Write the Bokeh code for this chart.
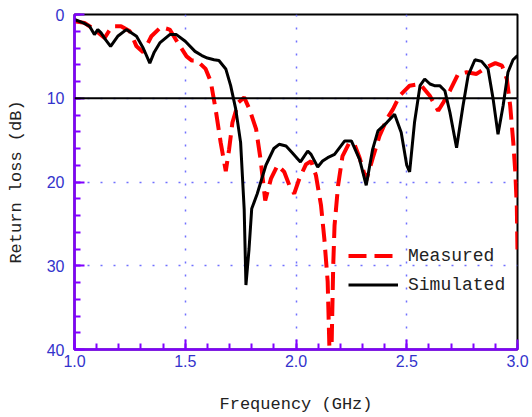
from bokeh.plotting import figure
from bokeh.models import Range1d, FixedTicker, Span, Legend, LegendItem, PrintfTickFormatter
from bokeh.embed import file_html
from bokeh.resources import INLINE

# ---- data ----
sim_f = [1.0, 1.04, 1.068, 1.09, 1.105, 1.12, 1.14, 1.163, 1.195, 1.234, 1.28, 1.31, 1.34, 1.36, 1.385,
         1.43, 1.46, 1.50, 1.544, 1.575, 1.60, 1.63, 1.652, 1.683, 1.705, 1.728, 1.75, 1.766, 1.774,
         1.788, 1.80, 1.825, 1.864, 1.90, 1.924, 1.955, 1.983, 2.02, 2.053, 2.068, 2.098, 2.12, 2.143,
         2.174, 2.22, 2.25, 2.287, 2.317, 2.346, 2.37, 2.41, 2.445, 2.475, 2.50, 2.513, 2.535, 2.56,
         2.581, 2.605, 2.625, 2.649, 2.672, 2.695, 2.725, 2.754, 2.777, 2.808, 2.838, 2.867, 2.89,
         2.912, 2.935, 2.957, 2.98, 3.0]
sim_db = [0.6, 1.0, 1.4, 2.4, 1.8, 2.2, 3.0, 3.8, 2.6, 1.8, 2.6, 4.0, 5.8, 4.5, 3.4,
          2.4, 2.4, 3.2, 4.4, 4.9, 5.2, 5.4, 5.5, 6.5, 8.5, 11.3, 15.3, 23.2, 32.3,
          28.0, 23.2, 21.4, 18.0, 16.0, 15.5, 15.7, 16.5, 17.6, 16.3, 16.7, 18.2, 17.5, 17.1,
          16.7, 15.1, 15.1, 17.3, 20.4, 16.1, 13.9, 12.9, 11.9, 14.1, 18.0, 18.8, 12.9, 8.5,
          7.7, 8.3, 8.5, 8.5, 9.1, 11.7, 15.9, 10.9, 7.3, 5.4, 5.6, 6.5, 10.1,
          14.3, 10.9, 6.9, 5.4, 4.9]

meas_f = [1.0, 1.045, 1.09, 1.136, 1.155, 1.172, 1.21, 1.25, 1.28, 1.31, 1.347, 1.39, 1.43, 1.467,
          1.506, 1.53, 1.553, 1.592, 1.615, 1.637, 1.66, 1.683, 1.698, 1.713, 1.74, 1.766, 1.79,
          1.82, 1.84, 1.861, 1.887, 1.917, 1.947, 1.97, 1.992, 2.015, 2.045, 2.068, 2.09, 2.113,
          2.128, 2.143, 2.151, 2.156, 2.162, 2.168, 2.174, 2.19, 2.21, 2.241, 2.264, 2.287, 2.317,
          2.347, 2.377, 2.41, 2.438, 2.468, 2.513, 2.56, 2.604, 2.642, 2.665, 2.695, 2.732, 2.77,
          2.815, 2.86, 2.9, 2.93, 2.952, 2.967, 2.981, 2.99, 2.997, 3.0]
meas_db = [0.8, 1.0, 1.8, 2.8, 2.0, 1.4, 1.4, 2.0, 3.8, 4.5, 2.6, 1.5, 1.8, 3.4,
           5.0, 5.5, 5.5, 6.5, 8.0, 11.3, 15.3, 18.7, 16.1, 12.9, 10.5, 9.9, 11.3,
           13.7, 17.3, 22.2, 19.6, 18.0, 18.8, 20.4, 21.4, 19.6, 17.9, 17.5, 19.2, 22.8,
           26.8, 31.9, 40.0, 46.0, 38.0, 30.0, 25.2, 20.4, 16.9, 15.3, 15.5, 17.1, 19.8,
           17.1, 14.5, 12.5, 11.3, 9.7, 8.5, 8.3, 9.7, 11.5, 10.5, 9.1, 7.1, 6.9,
           7.1, 6.3, 5.8, 6.1, 7.7, 10.9, 15.3, 18.8, 23.0, 28.5]

x_ticks = [1.0, 1.5, 2.0, 2.5, 3.0]
y_ticks = [0, 10, 20, 30, 40]
threshold_db = 10

AXIS = "#8000ff"
TICKTXT = "#3333cc"
GRID = "#7070ff"

p = figure(width=530, height=416, output_backend="svg", toolbar_location=None,
           x_range=Range1d(1.0, 3.0), y_range=Range1d(40, 0),
           min_border_left=74, min_border_top=14, min_border_right=13, min_border_bottom=66)

p.outline_line_color = "black"
p.outline_line_width = 2
p.background_fill_color = "white"

# grid
p.xgrid.ticker = FixedTicker(ticks=[1.5, 2.0, 2.5])
p.ygrid.ticker = FixedTicker(ticks=[10, 20, 30])
for g in (p.xgrid, p.ygrid):
    g.grid_line_color = GRID
    g.grid_line_dash = "2 11"
    g.grid_line_width = 1.5

# axes
p.xaxis.ticker = FixedTicker(ticks=x_ticks, minor_ticks=[round(1.0 + 0.1 * i, 1) for i in range(21)])
p.yaxis.ticker = FixedTicker(ticks=y_ticks, minor_ticks=list(range(0, 41, 2)))
p.xaxis.formatter = PrintfTickFormatter(format="%.1f")
for ax in (p.xaxis, p.yaxis):
    ax.axis_line_color = AXIS
    ax.axis_line_width = 2.5
    ax.major_tick_line_color = AXIS
    ax.minor_tick_line_color = AXIS
    ax.major_tick_line_width = 2
    ax.minor_tick_line_width = 2
    ax.major_tick_in = 10
    ax.major_tick_out = 0
    ax.minor_tick_in = 6
    ax.minor_tick_out = 0
    ax.major_label_text_color = TICKTXT
    ax.major_label_text_font = "Liberation Sans"
    ax.major_label_text_font_size = "16px"
    ax.axis_label_text_font = "Liberation Mono"
    ax.axis_label_text_font_size = "17px"
    ax.axis_label_text_font_style = "normal"
    ax.axis_label_text_color = "#222222"
p.xaxis.major_label_standoff = 5
p.yaxis.major_label_standoff = 10
p.xaxis.axis_label = "Frequency (GHz)"
p.yaxis.axis_label = "Return loss (dB)"
p.xaxis.axis_label_standoff = 25
p.yaxis.axis_label_standoff = 18

p.add_layout(Span(location=threshold_db, dimension="width", line_color="black", line_width=2))

r_meas = p.line(meas_f, meas_db, line_color="#ff0000", line_width=4, line_dash="18 8")
r_sim = p.line(sim_f, sim_db, line_color="black", line_width=3)

legend = Legend(items=[LegendItem(label="Measured", renderers=[r_meas]),
                       LegendItem(label="Simulated", renderers=[r_sim])],
                location=(274, 54), glyph_width=50, glyph_height=21, label_height=21,
                spacing=8, padding=0, margin=0, label_standoff=10,
                background_fill_alpha=0, border_line_alpha=0,
                label_text_font="Liberation Mono", label_text_font_size="18px",
                label_text_color="#222222")
p.add_layout(legend)

open("out.html", "w").write(file_html(p, INLINE))
